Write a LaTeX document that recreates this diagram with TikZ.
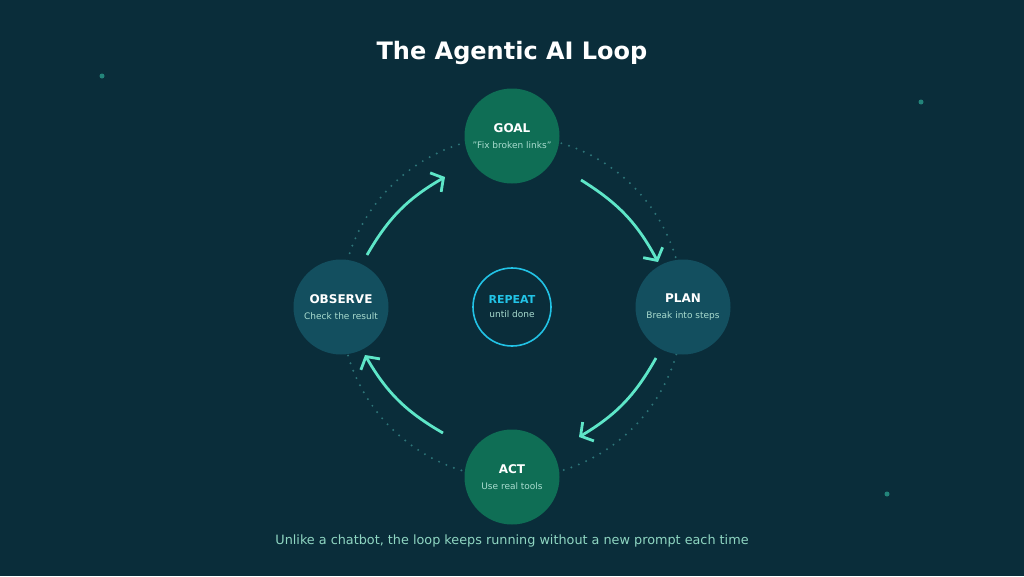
\documentclass[tikz,border=0pt]{standalone}
\usepackage{fontspec}
\setmainfont{DejaVu Sans}
\usetikzlibrary{arrows.meta,calc}
\definecolor{bg}{HTML}{0A2D3A}
\definecolor{greenfill}{HTML}{0F6E55}
\definecolor{bluefill}{HTML}{134F5F}
\definecolor{arrowc}{HTML}{5EE6C8}
\definecolor{cyanc}{HTML}{22C3E6}
\definecolor{subc}{HTML}{A9DCCF}
\definecolor{dotc}{HTML}{2D7478}
\definecolor{decoc}{HTML}{23847A}
\definecolor{capc}{HTML}{8FD6C2}
\begin{document}
\begin{tikzpicture}[x=1pt,y=-1pt,
  stage/.style={circle,minimum size=95pt,inner sep=0pt,align=center,text=white},
  green stage/.style={stage,fill=greenfill},
  blue stage/.style={stage,fill=bluefill},
  flow/.style={draw=arrowc,line width=2.8pt,-{Straight Barb[length=9pt,width=22pt,line width=2.8pt]}},
  deco/.style={fill=decoc,circle,inner sep=0pt,minimum size=5pt}]
\useasboundingbox[fill=bg] (0,0) rectangle (1024,576);
\coordinate (c) at (512,307);
\draw[dotc,line width=2.2pt,dash pattern=on 0pt off 8pt,line cap=round] (c) circle[radius=171];
\node[deco] (d1) at (102,76) {};
\node[deco] (d2) at (921,102) {};
\node[deco] (d3) at (887,494) {};
\node[font=\fontsize{24}{28}\selectfont\bfseries,text=white] (title) at (512,53) {The Agentic AI Loop};
\node[green stage] (goal) at (512,136) {{\fontsize{12}{14}\selectfont\bfseries GOAL}\\[3.5pt]{\fontsize{9}{10}\selectfont\color{subc}"Fix broken links"}};
\node[blue stage] (plan) at (683,307) {{\fontsize{12}{14}\selectfont\bfseries PLAN}\\[3.5pt]{\fontsize{9}{10}\selectfont\color{subc}Break into steps}};
\node[green stage] (act) at (512,477) {{\fontsize{12}{14}\selectfont\bfseries ACT}\\[3.5pt]{\fontsize{9}{10}\selectfont\color{subc}Use real tools}};
\node[blue stage] (observe) at (341,307) {{\fontsize{12}{14}\selectfont\bfseries OBSERVE}\\[3.5pt]{\fontsize{9}{10}\selectfont\color{subc}Check the result}};
\node[circle,draw=cyanc,line width=1.6pt,minimum size=78pt,inner sep=0pt,align=center] (repeat) at (c) {{\fontsize{11}{13}\selectfont\bfseries\color{cyanc}REPEAT}\\[2pt]{\fontsize{9}{10}\selectfont\color{subc}until done}};
\coordinate (o1) at (367,255);
\coordinate (g1) at (445,177);
\coordinate (g2) at (581,180);
\coordinate (p1) at (658,262);
\coordinate (p2) at (656,358);
\coordinate (a1) at (579,437);
\coordinate (a2) at (443,433);
\coordinate (o2) at (365,355);
\draw[flow] (o1) to[bend left=15] (g1);
\draw[flow] (g2) to[bend left=15] (p1);
\draw[flow] (p2) to[bend left=15] (a1);
\draw[flow] (a2) to[bend left=15] (o2);
\node[font=\fontsize{12.8}{15}\selectfont,text=capc] (caption) at (512,541) {Unlike a chatbot, the loop keeps running without a new prompt each time};
\end{tikzpicture}
\end{document}
